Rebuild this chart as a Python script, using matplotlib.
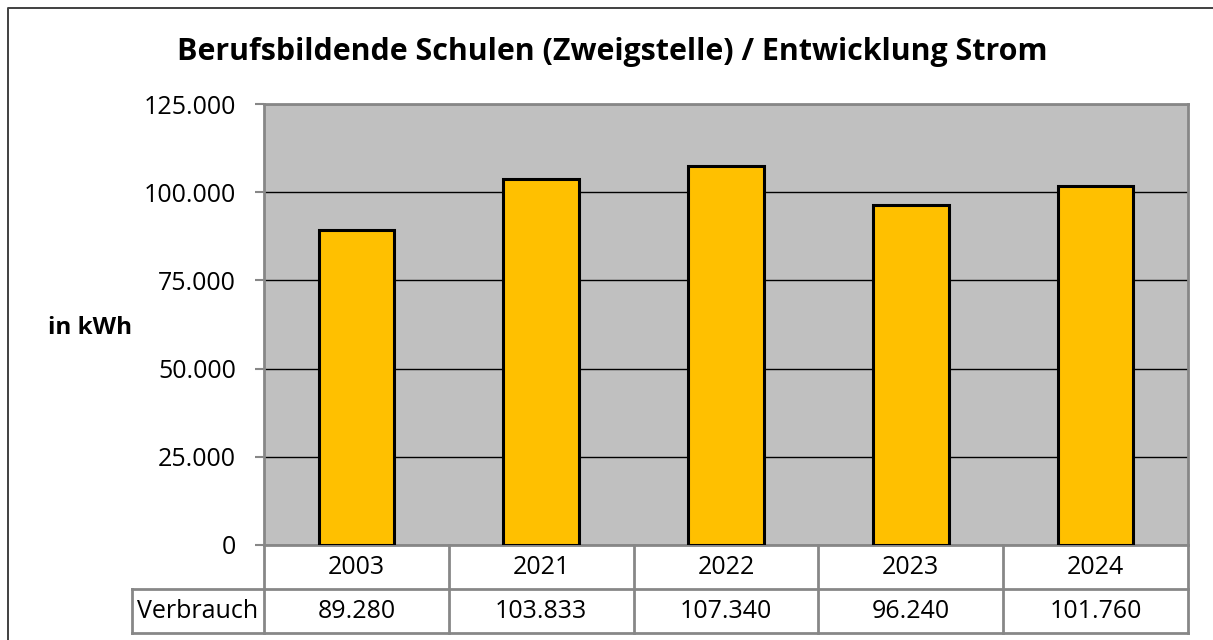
import matplotlib.pyplot as plt
from matplotlib.lines import Line2D
from matplotlib.ticker import FuncFormatter

# --- Data ---
years = ['2003', '2021', '2022', '2023', '2024']
verbrauch = [89280, 103833, 107340, 96240, 101760]
row_label = 'Verbrauch'
title = 'Berufsbildende Schulen (Zweigstelle) / Entwicklung Strom'
y_label = 'in kWh'
y_ticks = [0, 25000, 50000, 75000, 100000, 125000]

def de_fmt(v, pos=None):
    return f'{int(round(v)):,}'.replace(',', '.')

plt.rcParams['font.family'] = ['Open Sans', 'DejaVu Sans']
gray = '#878787'

W, H = 1213, 640
fig = plt.figure(figsize=(12.13, 6.4), dpi=100)
# outer chart frame: only top and left edges fall inside the picture
fx, fy = 7.5 / W, 1 - 7.5 / H
fig.add_artist(Line2D([fx, fx, 1.0], [0.0, fy, fy], transform=fig.transFigure,
                      color='#404040', linewidth=1.4))

left, right, top, bottom = 264, 1188, 104, 545
ax = fig.add_axes([left / W, 1 - bottom / H, (right - left) / W, (bottom - top) / H])
ax.set_facecolor('#C0C0C0')

x = range(len(years))
ax.bar(x, verbrauch, width=0.41, color='#FFC000', edgecolor='black',
       linewidth=2.2, zorder=3)
ax.set_xlim(-0.5, len(years) - 0.5)
ax.set_ylim(0, 125000)
ax.set_yticks(y_ticks)
ax.yaxis.set_major_formatter(FuncFormatter(de_fmt))
ax.grid(axis='y', color='black', linewidth=1, zorder=1)
ax.set_xticks([])
ax.tick_params(axis='y', labelsize=18, length=6.5, width=1.5, color=gray, pad=13.5)
for s in ax.spines.values():
    s.set_color(gray)
    s.set_linewidth(2)

# title and y label
fig.text(612 / W, 1 - 52 / H, title, ha='center', va='center',
         fontsize=21.9, fontweight='bold')
fig.text(90 / W, 1 - 328 / H, y_label, ha='center', va='center',
         fontsize=17.5, fontweight='bold')

# --- Data table under the plot ---
row_h = 44 / (bottom - top)
tr = ax.get_xaxis_transform()
lab_left = -0.5 - (left - 132) / ((right - left) / len(years))
kw = dict(color=gray, linewidth=2, transform=tr, clip_on=False)
ax.plot([-0.5, len(years) - 0.5], [-row_h, -row_h], **kw)
ax.plot([lab_left, len(years) - 0.5], [-2 * row_h, -2 * row_h], **kw)
ax.plot([lab_left, lab_left], [-row_h, -2 * row_h], **kw)
ax.plot([lab_left, -0.5], [-row_h, -row_h], **kw)
for i in range(len(years) + 1):
    ax.plot([i - 0.5, i - 0.5], [0, -2 * row_h], **kw)
for i, (yr, v) in enumerate(zip(years, verbrauch)):
    ax.text(i, -0.5 * row_h, yr, transform=tr, ha='center', va='center',
            fontsize=18)
    ax.text(i, -1.5 * row_h, de_fmt(v), transform=tr, ha='center',
            va='center', fontsize=18)
ax.text((lab_left - 0.5) / 2, -1.5 * row_h, row_label, transform=tr,
        ha='center', va='center', fontsize=18)

fig.savefig('out.png', dpi=100)
